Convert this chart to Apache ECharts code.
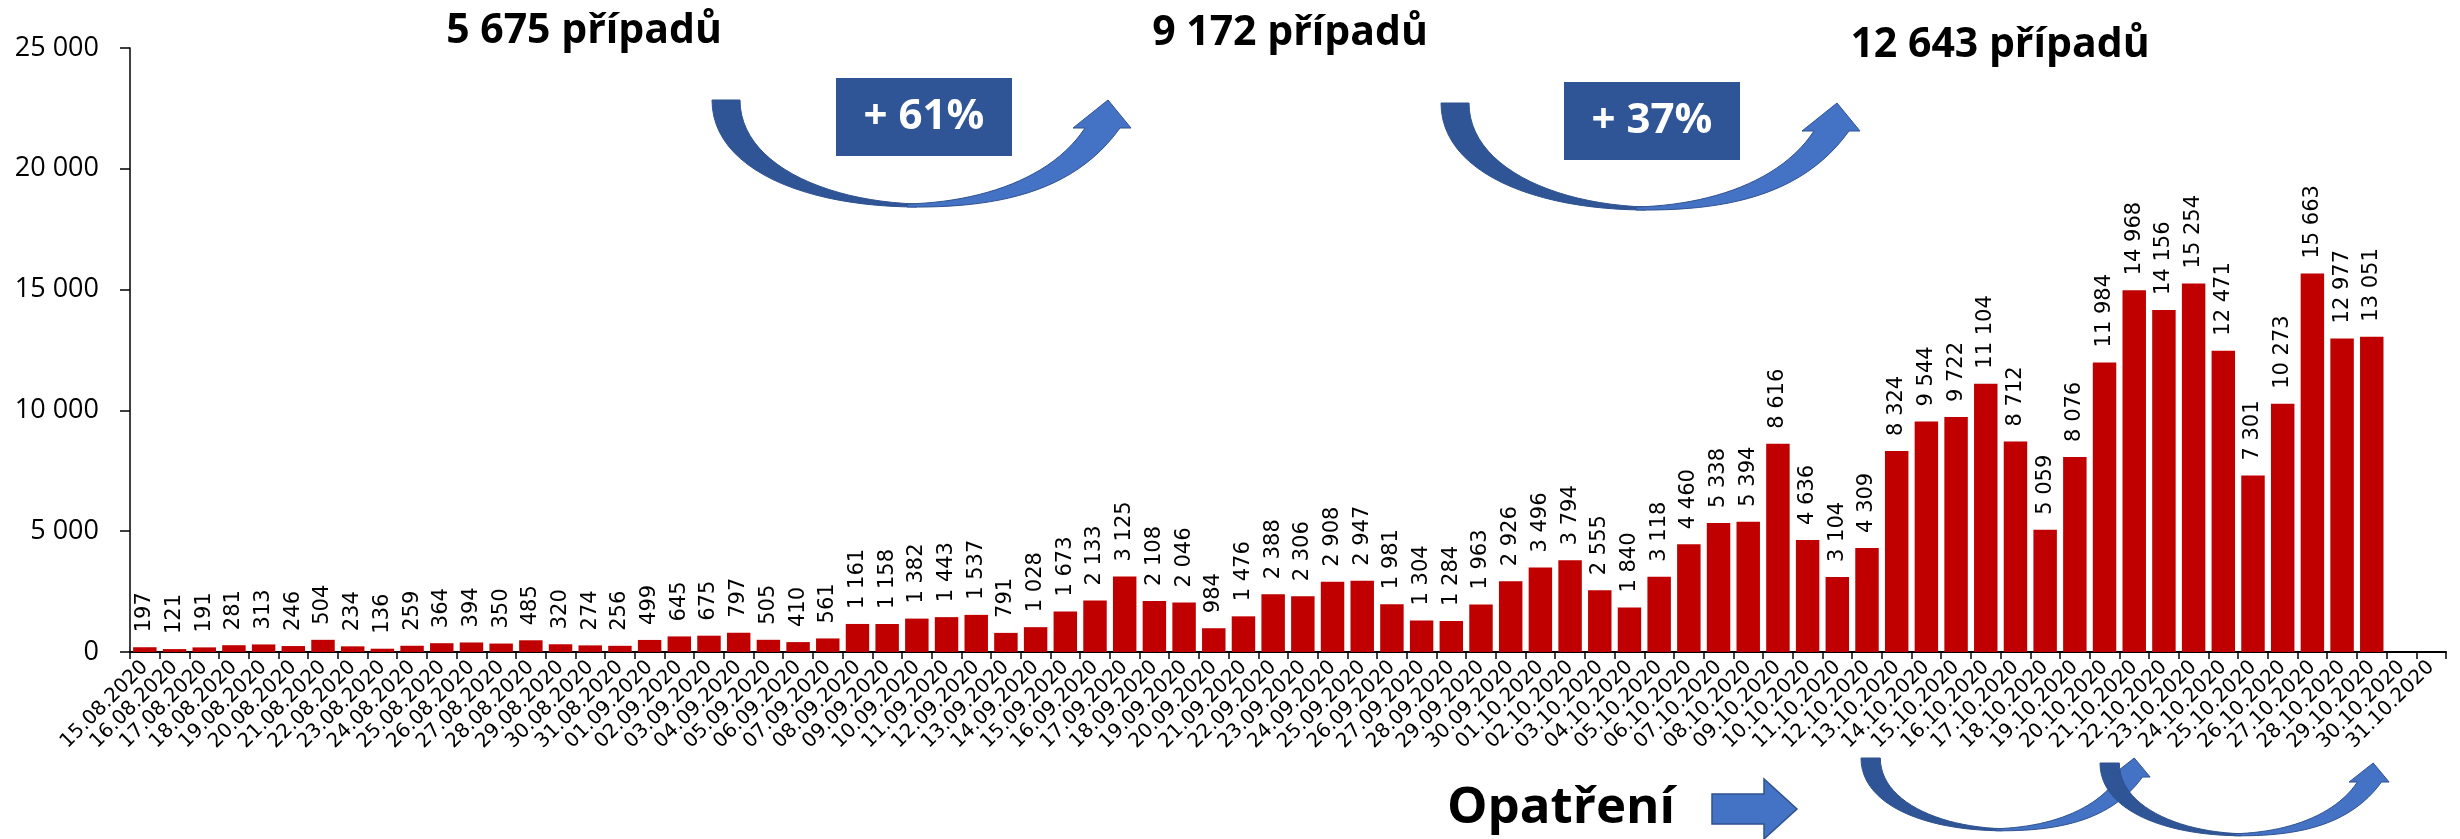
<!DOCTYPE html>
<html>
<head>
<meta charset="utf-8">
<script src="https://cdn.jsdelivr.net/npm/echarts@6/dist/echarts.min.js"></script>
<style>
html,body{margin:0;padding:0;background:#fff;}
#chart{width:2460px;height:839px;}
</style>
</head>
<body>
<div id="chart"></div>
<script>
const dates = [
'15.08.2020','16.08.2020','17.08.2020','18.08.2020','19.08.2020','20.08.2020','21.08.2020','22.08.2020','23.08.2020','24.08.2020',
'25.08.2020','26.08.2020','27.08.2020','28.08.2020','29.08.2020','30.08.2020','31.08.2020',
'01.09.2020','02.09.2020','03.09.2020','04.09.2020','05.09.2020','06.09.2020','07.09.2020','08.09.2020','09.09.2020','10.09.2020',
'11.09.2020','12.09.2020','13.09.2020','14.09.2020','15.09.2020','16.09.2020','17.09.2020','18.09.2020','19.09.2020','20.09.2020',
'21.09.2020','22.09.2020','23.09.2020','24.09.2020','25.09.2020','26.09.2020','27.09.2020','28.09.2020','29.09.2020','30.09.2020',
'01.10.2020','02.10.2020','03.10.2020','04.10.2020','05.10.2020','06.10.2020','07.10.2020','08.10.2020','09.10.2020','10.10.2020',
'11.10.2020','12.10.2020','13.10.2020','14.10.2020','15.10.2020','16.10.2020','17.10.2020','18.10.2020','19.10.2020','20.10.2020',
'21.10.2020','22.10.2020','23.10.2020','24.10.2020','25.10.2020','26.10.2020','27.10.2020','28.10.2020','29.10.2020','30.10.2020','31.10.2020'
];
const cases = [
197,121,191,281,313,246,504,234,136,259,364,394,350,485,320,274,256,
499,645,675,797,505,410,561,1161,1158,1382,1443,1537,791,1028,1673,2133,3125,2108,2046,984,1476,2388,2306,2908,2947,1981,1304,1284,1963,
2926,3496,3794,2555,1840,3118,4460,5338,5394,8616,4636,3104,4309,8324,9544,9722,11104,8712,5059,8076,11984,14968,14156,15254,12471,7301,10273,15663,12977,13051
];
const yMin = 0, yMax = 25000, yStep = 5000;
const periodTotals = ['5 675 případů', '9 172 případů', '12 643 případů'];
const growthLabels = ['+ 61%', '+ 37%'];
const measureLabel = 'Opatření';

function fmt(v){ return String(v).replace(/\B(?=(\d{3})+(?!\d))/g, ' '); }

// curved arrow outline (local coordinates): start point then segments
const tailShape = [[0,0], ['L',28,0], ['C',28,62,110,101,205,104], ['L',205,107], ['C',95,107,0,70,0,0]];
const headShape = [[195,107], ['C',280,108,360,95,408,28], ['L',419,28], ['L',396,0], ['L',361,28], ['L',373,28], ['C',340,78,270,102,195,104]];

function sampleShape(shape, ox, oy, sx, sy){
  const pts = [];
  let cx = shape[0][0], cy = shape[0][1];
  const push = (x, y) => pts.push([ox + x * sx, oy + y * sy]);
  push(cx, cy);
  for (let i = 1; i < shape.length; i++){
    const s = shape[i];
    if (s[0] === 'L'){ cx = s[1]; cy = s[2]; push(cx, cy); }
    else {
      const [, x1, y1, x2, y2, x, y] = s;
      for (let k = 1; k <= 24; k++){
        const t = k / 24, u = 1 - t;
        push(u*u*u*cx + 3*u*u*t*x1 + 3*u*t*t*x2 + t*t*t*x,
             u*u*u*cy + 3*u*u*t*y1 + 3*u*t*t*y2 + t*t*t*y);
      }
      cx = x; cy = y;
    }
  }
  return pts;
}

function curvedArrow(x, y, sx, sy, z){
  return [
    {type:'polygon', z: z, shape:{points: sampleShape(tailShape, x, y, sx, sy)}, style:{fill:'#2F5597', stroke:'#2F528F', lineWidth:1}},
    {type:'polygon', z: z, shape:{points: sampleShape(headShape, x, y, sx, sy)}, style:{fill:'#4472C4', stroke:'#2F528F', lineWidth:1}}
  ];
}

const chart = echarts.init(document.getElementById('chart'));
const boldFont = '"Open Sans", "Liberation Sans", sans-serif';
chart.setOption({
  animation: false,
  backgroundColor: '#fff',
  grid: {left: 130, right: 14, top: 48, bottom: 187, containLabel: false},
  xAxis: {
    type: 'category', data: dates, boundaryGap: true,
    axisLine: {show: true, lineStyle: {color: '#000', width: 2}},
    axisTick: {show: true, length: 7, lineStyle: {color: '#000', width: 1.5}},
    axisLabel: {interval: 0, rotate: 45, margin: 12, color: '#000', fontFamily: '"DejaVu Sans", Verdana, sans-serif', fontSize: 20}
  },
  yAxis: {
    type: 'value', min: yMin, max: yMax, interval: yStep,
    axisLine: {show: true, lineStyle: {color: '#000', width: 1.5}},
    axisTick: {show: true, length: 10, lineStyle: {color: '#000', width: 1.5}},
    splitLine: {show: false},
    axisLabel: {margin: 31, color: '#000', fontFamily: '"Open Sans", sans-serif', fontSize: 27, formatter: fmt}
  },
  series: [{
    type: 'bar', data: cases, barCategoryGap: '21%',
    itemStyle: {color: '#C00000'},
    label: {
      show: true, position: 'top', rotate: 90, align: 'left', verticalAlign: 'middle', distance: 15,
      color: '#000', fontFamily: '"DejaVu Sans", Verdana, sans-serif', fontSize: 21,
      formatter: p => fmt(p.value)
    }
  }],
  graphic: [].concat(
    curvedArrow(712, 100, 1, 1, 10),
    curvedArrow(1441, 103, 1, 1, 10),
    [
      {type:'rect', shape:{x:836, y:78, width:176, height:78}, style:{fill:'#2F5597'}, z: 11},
      {type:'rect', shape:{x:1564, y:82, width:176, height:78}, style:{fill:'#2F5597'}, z: 11},
      {type:'text', x:924, y:117, z: 12, style:{text: growthLabels[0], fill:'#fff', font:'bold 42px ' + boldFont, align:'center', verticalAlign:'middle'}},
      {type:'text', x:1652, y:121, z: 12, style:{text: growthLabels[1], fill:'#fff', font:'bold 42px ' + boldFont, align:'center', verticalAlign:'middle'}},
      {type:'text', x:584, y:31, z: 12, style:{text: periodTotals[0], fill:'#000', font:'bold 41px ' + boldFont, align:'center', verticalAlign:'middle'}},
      {type:'text', x:1290, y:33, z: 12, style:{text: periodTotals[1], fill:'#000', font:'bold 41px ' + boldFont, align:'center', verticalAlign:'middle'}},
      {type:'text', x:2000, y:45, z: 12, style:{text: periodTotals[2], fill:'#000', font:'bold 41px ' + boldFont, align:'center', verticalAlign:'middle'}},
      {type:'text', x:1561, y:808, z: 12, style:{text: measureLabel, fill:'#000', font:'bold 51px ' + boldFont, align:'center', verticalAlign:'middle'}},
      {type:'polygon', z: 12, shape:{points:[[1712,794],[1764,794],[1764,779],[1797,809],[1764,839],[1764,824],[1712,824]]}, style:{fill:'#4472C4', stroke:'#2F528F', lineWidth:1.5}}
    ],
    curvedArrow(1861, 758, 0.69, 0.68, 12),
    curvedArrow(2100, 763, 0.69, 0.68, 13)
  )
});
</script>
</body>
</html>
